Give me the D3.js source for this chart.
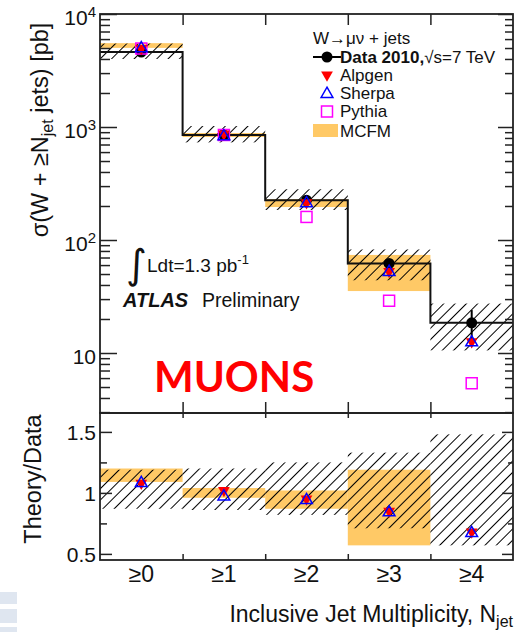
<!DOCTYPE html>
<html>
<head>
<meta charset="utf-8">
<script src="https://cdn.jsdelivr.net/npm/d3@7"></script>
<style>
  body { margin: 0; background: #fff; }
  svg { display: block; font-family: "Liberation Sans", Arial, sans-serif; }
</style>
</head>
<body>
<script>

// bins of the inclusive jet multiplicity
var binLabels = ["≥0", "≥1", "≥2", "≥3", "≥4"];

// measured cross section [pb] and its statistical error
var dataXs = [4600, 850, 225, 62, 18.5];
var dataStat = [40, 12, 5, 3, 5.5];

// systematic band, relative to data (hatched)
var sysLo = [0.87, 0.86, 0.82, 0.71, 0.57];
var sysHi = [1.19, 1.20, 1.25, 1.33, 1.48];

// mcfm band, relative to data (no prediction for >=4)
var mcfmLo = [1.09, 0.96, 0.87, 0.57];
var mcfmHi = [1.20, 1.04, 1.02, 1.19];

// generators: theory / data
var alpgenRatio = [1.08, 1.02, 0.95, 0.85, 0.68];
var sherpaRatio = [1.08, 0.97, 0.94, 0.84, 0.67];

// pythia cross section [pb]
var pythiaXs = [4950, 850, 160, 29, 5.4];

// tick values
var logMajors = [10, 100, 1000, 10000];
var ratioMajors = [0.5, 1, 1.5];
var ratioMinors = [0.75, 1.25];

window.onload = drawChart

function drawChart()
{
  var svg = d3.select("body").append("svg").attr("width", 525).attr("height", 632);

  // hatch pattern like root
  svg.append("defs").append("pattern")
     .attr("id", "hatch")
     .attr("patternUnits", "userSpaceOnUse")
     .attr("width", 8).attr("height", 8)
     .attr("patternTransform", "rotate(45)")
     .append("line")
     .attr("x1", 0).attr("y1", 0).attr("x2", 0).attr("y2", 8)
     .attr("stroke", "#000").attr("stroke-width", 2);

  var left = 100, right = 513, top = 14, mid = 413, bottom = 560;

  var xb = d3.scaleBand().domain(binLabels).range([left, right]);
  var xe = d3.scaleLinear().domain([0, 5]).range([left, right]);
  var y = d3.scaleLog().domain([2.945, 1e4]).range([mid, top]);
  var yr = d3.scaleLinear().domain([0.45, 1.655]).range([bottom, mid]);

  var bins = binLabels.map(function(b, i) { return {label: b, i: i}; });

  decoration(svg);
  topPanel(svg, bins, xb, y);
  ratioPanel(svg, bins, xb, yr);
  axes(svg, xb, xe, y, yr, left, right, top, mid, bottom);
  legend(svg);
  labels(svg);
}

function topPanel(svg, bins, xb, y)
{
  var w = xb.bandwidth();
  var cx = function(d) { return xb(d.label) + w / 2; };

  // mcfm band
  svg.append("g").selectAll("rect").data(bins.filter(function(d) { return d.i < mcfmLo.length; }))
     .join("rect")
     .attr("x", function(d) { return xb(d.label); })
     .attr("width", w)
     .attr("y", function(d) { return y(dataXs[d.i] * mcfmHi[d.i]); })
     .attr("height", function(d) { return y(dataXs[d.i] * mcfmLo[d.i]) - y(dataXs[d.i] * mcfmHi[d.i]); })
     .attr("fill", "#ffc966");

  // systematic band
  svg.append("g").selectAll("rect").data(bins).join("rect")
     .attr("x", function(d) { return xb(d.label); })
     .attr("width", w)
     .attr("y", function(d) { return y(dataXs[d.i] * sysHi[d.i]); })
     .attr("height", function(d) { return y(dataXs[d.i] * sysLo[d.i]) - y(dataXs[d.i] * sysHi[d.i]); })
     .attr("fill", "url(#hatch)");

  // data histogram as steps
  var pts = [];
  bins.forEach(function(d) {
    pts.push([xb(d.label), y(dataXs[d.i])]);
    pts.push([xb(d.label) + w, y(dataXs[d.i])]);
  });
  svg.append("path").attr("d", d3.line()(pts))
     .attr("fill", "none").attr("stroke", "#111").attr("stroke-width", 2);

  // data points
  svg.append("g").selectAll("line").data(bins).join("line")
     .attr("x1", cx).attr("x2", cx)
     .attr("y1", function(d) { return y(dataXs[d.i] + dataStat[d.i]); })
     .attr("y2", function(d) { return y(dataXs[d.i] - dataStat[d.i]); })
     .attr("stroke", "#000").attr("stroke-width", 2);
  svg.append("g").selectAll("circle").data(bins).join("circle")
     .attr("cx", cx).attr("cy", function(d) { return y(dataXs[d.i]); })
     .attr("r", 5.5).attr("fill", "#000");

  // pythia
  svg.append("g").selectAll("rect").data(bins).join("rect")
     .attr("x", function(d) { return cx(d) - 5.5; })
     .attr("y", function(d) { return y(pythiaXs[d.i]) - 5.5; })
     .attr("width", 11).attr("height", 11)
     .attr("fill", "none").attr("stroke", "#ff00ff").attr("stroke-width", 1.5);

  generators(svg, bins, cx, function(d) { return y(dataXs[d.i] * alpgenRatio[d.i]); },
             function(d) { return y(dataXs[d.i] * sherpaRatio[d.i]); });
}

function ratioPanel(svg, bins, xb, yr)
{
  var w = xb.bandwidth();
  var cx = function(d) { return xb(d.label) + w / 2; };

  svg.append("g").selectAll("rect").data(bins.filter(function(d) { return d.i < mcfmLo.length; }))
     .join("rect")
     .attr("x", function(d) { return xb(d.label); })
     .attr("width", w)
     .attr("y", function(d) { return yr(mcfmHi[d.i]); })
     .attr("height", function(d) { return yr(mcfmLo[d.i]) - yr(mcfmHi[d.i]); })
     .attr("fill", "#ffc966");

  svg.append("g").selectAll("rect").data(bins).join("rect")
     .attr("x", function(d) { return xb(d.label); })
     .attr("width", w)
     .attr("y", function(d) { return yr(sysHi[d.i]); })
     .attr("height", function(d) { return yr(sysLo[d.i]) - yr(sysHi[d.i]); })
     .attr("fill", "url(#hatch)");

  generators(svg, bins, cx, function(d) { return yr(alpgenRatio[d.i]); },
             function(d) { return yr(sherpaRatio[d.i]); });
}

// alpgen (red down triangle) and sherpa (open blue triangle)
function generators(svg, bins, cx, ya, ys)
{
  var tri = d3.symbol().type(d3.symbolTriangle).size(60);
  svg.append("g").selectAll("path").data(bins).join("path")
     .attr("d", tri)
     .attr("transform", function(d) { return "translate(" + cx(d) + "," + ya(d) + ") rotate(180)"; })
     .attr("fill", "#ff0000");
  svg.append("g").selectAll("path").data(bins).join("path")
     .attr("d", tri)
     .attr("transform", function(d) { return "translate(" + cx(d) + "," + ys(d) + ")"; })
     .attr("fill", "none").attr("stroke", "#0000ff").attr("stroke-width", 1.5);
}

function axes(svg, xb, xe, y, yr, left, right, top, mid, bottom)
{
  var edges = [1, 2, 3, 4];
  var logMinors = y.ticks().filter(function(v) { return logMajors.indexOf(v) < 0; });

  function put(axis, tx, ty)
  {
    var g = svg.append("g").attr("transform", "translate(" + tx + "," + ty + ")").call(axis);
    g.select(".domain").remove();
    g.selectAll(".tick line").attr("stroke", "#222").attr("stroke-width", 1.5);
    return g;
  }

  // top panel
  put(d3.axisLeft(y).tickValues(logMajors).tickSize(-17).tickFormat(""), left, 0);
  put(d3.axisLeft(y).tickValues(logMinors).tickSize(-10).tickFormat(""), left, 0);
  put(d3.axisRight(y).tickValues(logMajors).tickSize(-15).tickFormat(""), right, 0);
  put(d3.axisRight(y).tickValues(logMinors).tickSize(-8).tickFormat(""), right, 0);
  put(d3.axisTop(xe).tickValues(edges).tickSize(-11).tickFormat(""), 0, top);
  put(d3.axisBottom(xe).tickValues(edges).tickSize(-11).tickFormat(""), 0, mid);

  // log labels 10^n
  var lab = svg.append("g").selectAll("text").data(logMajors).join("text")
     .attr("x", 96)
     .attr("y", function(v) { return y(v) + 11; })
     .attr("text-anchor", "end")
     .attr("font-size", 21)
     .attr("fill", "#111");
  lab.append("tspan").text("10");
  lab.filter(function(v) { return v > 10; }).append("tspan")
     .attr("font-size", 15).attr("dy", -8)
     .text(function(v) { return Math.round(Math.log10(v)); });

  // ratio panel
  put(d3.axisLeft(yr).tickValues(ratioMajors).tickSize(-12).tickFormat(""), left, 0);
  put(d3.axisLeft(yr).tickValues(ratioMinors).tickSize(-7).tickFormat(""), left, 0);
  put(d3.axisRight(yr).tickValues(ratioMajors).tickSize(-11).tickFormat(""), right, 0);
  put(d3.axisRight(yr).tickValues(ratioMinors).tickSize(-5).tickFormat(""), right, 0);
  put(d3.axisTop(xe).tickValues(edges).tickSize(-5).tickFormat(""), 0, mid);
  put(d3.axisBottom(xe).tickValues(edges).tickSize(-6).tickFormat(""), 0, bottom);

  svg.append("g").selectAll("text").data(ratioMajors).join("text")
     .attr("x", 96)
     .attr("y", function(v) { return yr(v) + 8; })
     .attr("text-anchor", "end")
     .attr("font-size", 21)
     .attr("fill", "#111")
     .text(function(v) { return v; });

  // bin labels
  var gx = svg.append("g").attr("transform", "translate(0," + bottom + ")")
              .call(d3.axisBottom(xb).tickSize(0).tickPadding(6));
  gx.select(".domain").remove();
  gx.selectAll("text").attr("font-size", 23).attr("fill", "#111")
    .attr("font-family", "Liberation Sans, Arial, sans-serif");

  // frames
  svg.append("rect").attr("x", left).attr("y", top).attr("width", right - left).attr("height", mid - top)
     .attr("fill", "none").attr("stroke", "#222").attr("stroke-width", 1.8);
  svg.append("rect").attr("x", left).attr("y", mid).attr("width", right - left).attr("height", bottom - mid)
     .attr("fill", "none").attr("stroke", "#222").attr("stroke-width", 1.8);
}

function legend(svg)
{
  var lx = 340, mx = 327;

  svg.append("text").attr("x", 313).attr("y", 44).attr("font-size", 17).attr("fill", "#111")
     .text("W→μν + jets");

  // data entry
  svg.append("line").attr("x1", 313).attr("x2", 341).attr("y1", 57).attr("y2", 57)
     .attr("stroke", "#000").attr("stroke-width", 2);
  svg.append("circle").attr("cx", mx).attr("cy", 57).attr("r", 5.5).attr("fill", "#000");
  var t = svg.append("text").attr("x", lx).attr("y", 63).attr("font-size", 17).attr("fill", "#111");
  t.append("tspan").attr("font-weight", "bold").text("Data 2010,");
  t.append("tspan").text("√s=7 TeV");

  var tri = d3.symbol().type(d3.symbolTriangle).size(60);
  svg.append("path").attr("d", tri).attr("transform", "translate(" + mx + ",75) rotate(180)").attr("fill", "#ff0000");
  svg.append("text").attr("x", lx).attr("y", 81).attr("font-size", 17).attr("fill", "#111").text("Alpgen");

  svg.append("path").attr("d", tri).attr("transform", "translate(" + mx + ",94)")
     .attr("fill", "none").attr("stroke", "#0000ff").attr("stroke-width", 1.5);
  svg.append("text").attr("x", lx).attr("y", 99).attr("font-size", 17).attr("fill", "#111").text("Sherpa");

  svg.append("rect").attr("x", mx - 5.5).attr("y", 106).attr("width", 11).attr("height", 11)
     .attr("fill", "none").attr("stroke", "#ff00ff").attr("stroke-width", 1.5);
  svg.append("text").attr("x", lx).attr("y", 117).attr("font-size", 17).attr("fill", "#111").text("Pythia");

  svg.append("rect").attr("x", 313).attr("y", 124).attr("width", 25).attr("height", 13).attr("fill", "#ffc966");
  svg.append("text").attr("x", lx).attr("y", 137).attr("font-size", 17).attr("fill", "#111").text("MCFM");
}

function labels(svg)
{
  // y title top
  var yt = svg.append("text")
     .attr("transform", "translate(48,130) rotate(-90)")
     .attr("text-anchor", "middle").attr("font-size", 23.5).attr("fill", "#111");
  yt.append("tspan").text("σ(W + ≥N");
  yt.append("tspan").attr("font-size", 16).attr("dy", 5).text("jet");
  yt.append("tspan").attr("dy", -5).text(" jets) [pb]");

  svg.append("text")
     .attr("transform", "translate(41,479) rotate(-90)")
     .attr("text-anchor", "middle").attr("font-size", 23.5).attr("fill", "#111")
     .text("Theory/Data");

  // x title
  var xt = svg.append("text").attr("x", 513).attr("y", 622)
     .attr("text-anchor", "end").attr("font-size", 23).attr("fill", "#111");
  xt.append("tspan").text("Inclusive Jet Multiplicity, N");
  xt.append("tspan").attr("font-size", 16).attr("dy", 5).text("jet");

  // luminosity and atlas label
  svg.append("text").attr("x", 126).attr("y", 278).attr("font-size", 40).attr("fill", "#111")
     .attr("font-family", "DejaVu Sans").text("∫");
  var lt = svg.append("text").attr("x", 147).attr("y", 272).attr("font-size", 19).attr("fill", "#111");
  lt.append("tspan").text("Ldt=1.3 pb");
  lt.append("tspan").attr("font-size", 13).attr("dy", -8).text("-1");

  svg.append("text").attr("x", 123).attr("y", 307).attr("font-size", 20).attr("fill", "#111")
     .attr("font-weight", "bold").attr("font-style", "italic").text("ATLAS");
  svg.append("text").attr("x", 202).attr("y", 307).attr("font-size", 19.5).attr("fill", "#111")
     .text("Preliminary");

  svg.append("text").attr("x", 154).attr("y", 392).attr("font-size", 42).attr("fill", "#ff0000")
     .attr("font-family", "Lato, 'Open Sans', sans-serif").attr("font-weight", "bold").text("MUONS");
}

// light blue slide strip in the corner
function decoration(svg)
{
  [[592, 12], [609, 14], [627, 6]].forEach(function(r) {
    svg.append("rect").attr("x", 0).attr("y", r[0]).attr("width", 17).attr("height", r[1]).attr("fill", "#dfe6f0");
  });
}
</script>
</body>
</html>
